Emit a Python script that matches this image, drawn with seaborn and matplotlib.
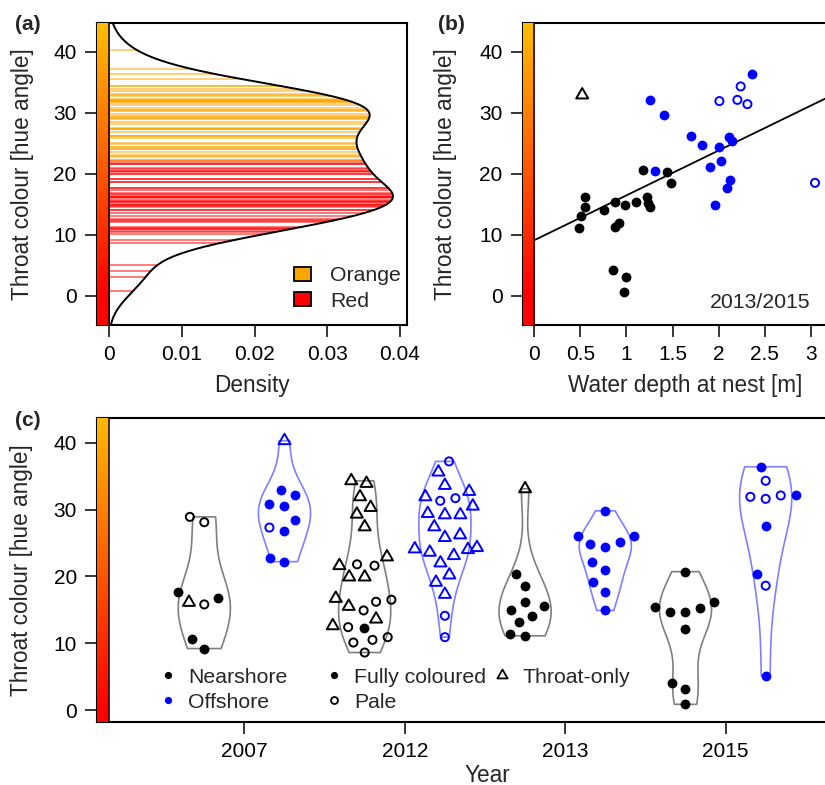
import numpy as np
import pandas as pd
import matplotlib
matplotlib.use("Agg")
import matplotlib.pyplot as plt
import matplotlib.colors as mcolors
from matplotlib.lines import Line2D
from matplotlib.patches import Patch
from matplotlib.path import Path
import seaborn as sns

# ---------------- data ----------------
groups = ["2007 Nearshore", "2007 Offshore", "2012 Nearshore", "2012 Offshore",
          "2013 Nearshore", "2013 Offshore", "2015 Nearshore", "2015 Offshore"]
year_labels = ["2007", "2012", "2013", "2015"]

# panel (c): hue angle per group and colour type
c_full = {
    "2007 Nearshore": [16.8, 17.6, 10.6, 9.2],
    "2007 Offshore": [32.1, 32.9, 30.5, 30.8, 28.4, 26.8, 22.2, 22.8],
    "2012 Nearshore": [12.3],
    "2012 Offshore": [],
    "2013 Nearshore": [20.4, 18.6, 16.2, 15.0, 15.5, 14.1, 13.1, 11.1, 11.3],
    "2013 Offshore": [29.8, 26.1, 26.1, 25.1, 24.4, 24.8, 22.2, 21.0, 19.1, 17.7, 14.9],
    "2015 Nearshore": [20.7, 15.4, 15.3, 14.6, 14.7, 16.2, 12.1, 3.1, 4.1, 0.85],
    "2015 Offshore": [36.4, 32.2, 27.5, 20.4, 5.1],
}
c_pale = {
    "2007 Nearshore": [28.1, 28.9, 15.8],
    "2007 Offshore": [27.3],
    "2012 Nearshore": [21.8, 21.6, 16.5, 16.2, 14.9, 12.4, 10.9, 10.5, 10.1, 8.6],
    "2012 Offshore": [37.2, 31.7, 31.3, 14.1, 10.9],
    "2013 Nearshore": [],
    "2013 Offshore": [],
    "2015 Nearshore": [],
    "2015 Offshore": [34.3, 32.1, 31.6, 31.9, 18.6],
}
c_throat = {
    "2007 Nearshore": [16.1],
    "2007 Offshore": [40.3],
    "2012 Nearshore": [33.9, 34.3, 31.9, 30.3, 29.3, 27.4, 22.9, 21.6, 19.9, 19.9,
                       16.7, 15.5, 13.6, 12.6],
    "2012 Offshore": [35.6, 33.6, 32.7, 31.9, 30.5, 29.4, 29.2, 29.2, 27.4, 25.8,
                      26.2, 24.3, 24.0, 23.1, 23.6, 24.1, 22.0, 20.2, 19.1, 17.3],
    "2013 Nearshore": [33.1],
    "2013 Offshore": [],
    "2015 Nearshore": [],
    "2015 Offshore": [],
}

# panel (b): water depth [m] and hue angle (2013/2015)
b_near_full_depth = [0.485, 0.51, 0.55, 0.55, 0.76, 0.872, 0.872, 0.923, 0.988, 1.104,
                     1.176, 1.223, 1.23, 1.256, 1.437, 1.487, 0.85, 1.0, 0.977]
b_near_full_hue = [11.1, 13.0, 14.6, 16.1, 14.1, 15.4, 11.3, 12.0, 14.9, 15.4,
                   20.6, 16.1, 15.2, 14.5, 20.3, 18.5, 4.15, 3.1, 0.66]
b_near_throat_depth = [0.52]
b_near_throat_hue = [32.9]
b_off_full_depth = [1.256, 1.408, 1.307, 1.697, 1.817, 2.009, 1.907, 2.027, 2.117,
                    2.146, 2.363, 1.958, 2.088, 2.128]
b_off_full_hue = [32.1, 29.7, 20.4, 26.1, 24.75, 24.4, 21.1, 22.1, 26.0, 25.3,
                  36.3, 14.9, 17.6, 19.0]
b_off_pale_depth = [2.009, 2.204, 2.24, 2.313, 3.047]
b_off_pale_hue = [31.9, 32.1, 34.3, 31.4, 18.5]
reg_intercept = 9.1
reg_slope = 7.35

red_orange_threshold = 22.1

# ---------------- style ----------------
sns.set_style("ticks")
plt.rcParams["font.family"] = ["Liberation Sans", "DejaVu Sans"]
plt.rcParams["axes.linewidth"] = 1.5
plt.rcParams["axes.edgecolor"] = "black"

FS_LAB, FS_TICK, FS_TXT = 16.3, 15.0, 15.3
NEAR_COL, OFF_COL = "black", "#0000FF"
NEAR_VIO, OFF_VIO = "#7F7F7F", "#7F7FFF"
S_FULL, S_PALE, S_TRI = 50, 34, 100
LW_OPEN = 1.4
TRI = Path([(0, 1.1547), (-1, -0.57735), (1, -0.57735), (0, 1.1547)],
           [Path.MOVETO, Path.LINETO, Path.LINETO, Path.CLOSEPOLY])

W, H = 825, 785
fig = plt.figure(figsize=(W / 100, H / 100), dpi=100)
fig.patch.set_facecolor("white")


def px_axes(l, t, r, b):
    return fig.add_axes([l / W, (H - b) / H, (r - l) / W, (b - t) / H])


axa = px_axes(97, 22.7, 406.7, 325)
axb = px_axes(522.7, 22.7, 847, 325)
axc = px_axes(97.3, 418.3, 877, 721.7)

A_XLIM, A_YLIM = (-0.00165, 0.04092), (-4.8, 44.75)
B_XLIM = (-0.126, 3.394)
C_XLIM, C_YLIM = (-1.334, 8.388), (-1.75, 43.65)


def style_axis(ax):
    ax.tick_params(axis="both", direction="out", length=8.6, width=1.1, pad=6,
                   labelsize=FS_TICK, colors="black")
    for s in ax.spines.values():
        s.set_visible(True)
        s.set_linewidth(1.5)
        s.set_color("black")


def hue_strip(ax, x0, x1, y0, y1):
    yy = np.linspace(y0, y1, 600)
    h = np.clip(yy, 0, 360) / 360.0
    hsv = np.stack([h, np.ones_like(h), np.ones_like(h)], axis=-1)
    rgb = mcolors.hsv_to_rgb(hsv)[:, None, :]
    ax.imshow(rgb, extent=[x0, x1, y0, y1], origin="lower", aspect="auto",
              interpolation="bilinear", zorder=4)
    ax.plot([x1, x1], [y0, y1], color="black", lw=1.1, zorder=5,
            solid_capstyle="butt")


# ---------------- build long table for (c) ----------------
rows = []
for i, g in enumerate(groups):
    shore = "Nearshore" if "Near" in g else "Offshore"
    for t, d in (("full", c_full), ("pale", c_pale), ("throat", c_throat)):
        for v in d[g]:
            rows.append((g, float(i), shore, t, v))
df = pd.DataFrame(rows, columns=["group", "pos", "shore", "type", "hue"])

# ---------------- panel (a) ----------------
vals = df["hue"].to_numpy()
n = len(vals)
sd = vals.std(ddof=1)
iqr = np.subtract(*np.percentile(vals, [75, 25]))
bw = 0.9 * min(sd, iqr / 1.34) * n ** -0.2


def kde(y):
    z = (np.asarray(y)[:, None] - vals[None, :]) / bw
    return np.exp(-0.5 * z ** 2).sum(axis=1) / (n * bw * np.sqrt(2 * np.pi))


line_cols = np.where(vals >= red_orange_threshold, "#FFA500", "#FF0000")
axa.hlines(vals, 0, kde(vals), colors=line_cols, lw=1.2, alpha=0.6, zorder=2)
grid = np.linspace(A_YLIM[0], A_YLIM[1], 600)
sns.lineplot(x=kde(grid), y=grid, sort=False, orient="y", color="black",
             lw=1.4, ax=axa, zorder=3)
hue_strip(axa, A_XLIM[0], 0, A_YLIM[0], A_YLIM[1])
axa.set_xlim(A_XLIM)
axa.set_ylim(A_YLIM)
axa.set_xticks([0, 0.01, 0.02, 0.03, 0.04])
axa.set_xticklabels(["0", "0.01", "0.02", "0.03", "0.04"])
axa.set_yticks([0, 10, 20, 30, 40])
style_axis(axa)
axa.set_xlabel("Density", fontsize=FS_LAB)
axa.set_ylabel("Throat colour [hue angle]", fontsize=FS_LAB)
axa.xaxis.set_label_coords(0.5, -0.200)
axa.xaxis.label.set_va("center")
axa.yaxis.set_label_coords(-0.242, 0.5)
axa.yaxis.label.set_va("center")
leg_a = axa.legend(
    handles=[Patch(facecolor="#FFA500", edgecolor="black", lw=1.3),
             Patch(facecolor="#FF0000", edgecolor="black", lw=1.3)],
    labels=["Orange", "Red"], frameon=False, fontsize=FS_TXT,
    handlelength=0.786, handleheight=0.63, handletextpad=0.89, labelspacing=0.31,
    borderpad=0, borderaxespad=0, loc="upper left",
    bbox_to_anchor=(294.35 / W, 1 - 266.2 / H), bbox_transform=fig.transFigure)

# ---------------- panel (b) ----------------
xr = np.array(B_XLIM)
axb.plot(xr, reg_intercept + reg_slope * xr, color="black", lw=1.3, zorder=2)
sns.scatterplot(x=b_near_full_depth, y=b_near_full_hue, color=NEAR_COL, s=S_FULL,
                linewidth=0, ax=axb, zorder=3)
sns.scatterplot(x=b_off_full_depth, y=b_off_full_hue, color=OFF_COL, s=S_FULL,
                linewidth=0, ax=axb, zorder=3)
sns.scatterplot(x=b_off_pale_depth, y=b_off_pale_hue, facecolor="none",
                edgecolor=OFF_COL, s=S_PALE, linewidth=LW_OPEN, ax=axb, zorder=3)
sns.scatterplot(x=b_near_throat_depth, y=b_near_throat_hue, marker=TRI,
                facecolor="none", edgecolor=NEAR_COL, s=S_TRI, linewidth=LW_OPEN,
                ax=axb, zorder=3)
hue_strip(axb, B_XLIM[0], 0, A_YLIM[0], A_YLIM[1])
axb.text(2.447, -2.07, "2013/2015", fontsize=FS_TXT, ha="center", va="baseline")
axb.set_xlim(B_XLIM)
axb.set_ylim(A_YLIM)
axb.set_xticks([0, 0.5, 1, 1.5, 2, 2.5, 3])
axb.set_xticklabels(["0", "0.5", "1", "1.5", "2", "2.5", "3"])
axb.set_yticks([0, 10, 20, 30, 40])
style_axis(axb)
axb.set_xlabel("Water depth at nest [m]", fontsize=FS_LAB)
axb.set_ylabel("Throat colour [hue angle]", fontsize=FS_LAB)
axb.xaxis.set_label_coords(0.5, -0.200)
axb.xaxis.label.set_va("center")
axb.yaxis.set_label_coords(-0.237, 0.5)
axb.yaxis.label.set_va("center")

# ---------------- panel (c) ----------------
swarm = {}
for g in groups:
    sub = df[df["group"] == g]
    col = NEAR_VIO if "Near" in g else OFF_VIO
    sns.violinplot(x=sub["pos"], y=sub["hue"], native_scale=True, cut=0, fill=False,
                   inner=None, width=0.65, color=col, linecolor=col, linewidth=1.2,
                   ax=axc, zorder=1)
for g in groups:
    sub = df[df["group"] == g]
    sns.swarmplot(x=sub["pos"], y=sub["hue"], native_scale=True, size=10.6,
                  linewidth=0, color="black", ax=axc, warn_thresh=1)
    swarm[g] = axc.collections[-1]
axc.set_xlim(C_XLIM)
axc.set_ylim(C_YLIM)
fig.canvas.draw()
xs = np.zeros(len(df))
for g in groups:
    idx = np.where(df["group"].to_numpy() == g)[0]
    xs[idx] = swarm[g].get_offsets()[:, 0]
    swarm[g].remove()
df["x"] = xs

for shore, col in (("Nearshore", NEAR_COL), ("Offshore", OFF_COL)):
    d = df[(df["shore"] == shore) & (df["type"] == "full")]
    sns.scatterplot(x=d["x"], y=d["hue"], color=col, s=S_FULL, linewidth=0,
                    ax=axc, zorder=3)
    d = df[(df["shore"] == shore) & (df["type"] == "pale")]
    sns.scatterplot(x=d["x"], y=d["hue"], facecolor="none", edgecolor=col,
                    s=S_PALE, linewidth=LW_OPEN, ax=axc, zorder=3)
    d = df[(df["shore"] == shore) & (df["type"] == "throat")]
    sns.scatterplot(x=d["x"], y=d["hue"], marker=TRI, facecolor="none",
                    edgecolor=col, s=S_TRI, linewidth=LW_OPEN, ax=axc, zorder=3)

hue_strip(axc, C_XLIM[0], C_XLIM[0] + 11.7 / 80.2, C_YLIM[0], C_YLIM[1])
axc.set_xlim(C_XLIM)
axc.set_ylim(C_YLIM)
axc.set_xticks([0.5, 2.5, 4.5, 6.5])
axc.set_xticklabels(year_labels)
axc.set_yticks([0, 10, 20, 30, 40])
style_axis(axc)
axc.set_xlabel("Year", fontsize=FS_LAB)
axc.set_ylabel("Throat colour [hue angle]", fontsize=FS_LAB)
axc.xaxis.set_label_coords(0.5, -0.176)
axc.xaxis.label.set_va("center")
axc.yaxis.set_label_coords(-0.0966, 0.5)
axc.yaxis.label.set_va("center")


def mk(marker, fc, ec, ms, mew=1.2):
    return Line2D([], [], linestyle="none", marker=marker, markersize=ms,
                  markerfacecolor=fc, markeredgecolor=ec, markeredgewidth=mew)


h1 = [mk("o", NEAR_COL, NEAR_COL, 5.2, 0), mk("o", OFF_COL, OFF_COL, 5.2, 0),
      mk("o", NEAR_COL, NEAR_COL, 5.2, 0), mk("o", "none", NEAR_COL, 5.0, 1.3)]
leg1 = axc.legend(h1, ["Nearshore", "Offshore", "Fully coloured", "Pale"], ncol=2,
                  frameon=False, fontsize=FS_TXT, numpoints=1, handlelength=1.0,
                  handletextpad=0.456, columnspacing=1.70, labelspacing=0.28,
                  borderpad=0, borderaxespad=0, loc="upper left",
                  bbox_to_anchor=(157.1 / W, 1 - 667.8 / H),
                  bbox_transform=fig.transFigure)
axc.add_artist(leg1)
axc.legend([mk(TRI, "none", NEAR_COL, 8.5, 1.3)], ["Throat-only"], frameon=False,
           fontsize=FS_TXT, numpoints=1, handlelength=1.0, handletextpad=0.456,
           borderpad=0, borderaxespad=0, loc="upper left",
           bbox_to_anchor=(491.1 / W, 1 - 667.8 / H), bbox_transform=fig.transFigure)

# ---------------- panel labels ----------------
for x, y, s in ((15, 25, "(a)"), (438, 25, "(b)"), (15, 421, "(c)")):
    fig.text(x / W, 1 - y / H, s, fontsize=15, fontweight="bold", ha="left",
             va="center")

fig.savefig("out.png", dpi=100, facecolor="white")
